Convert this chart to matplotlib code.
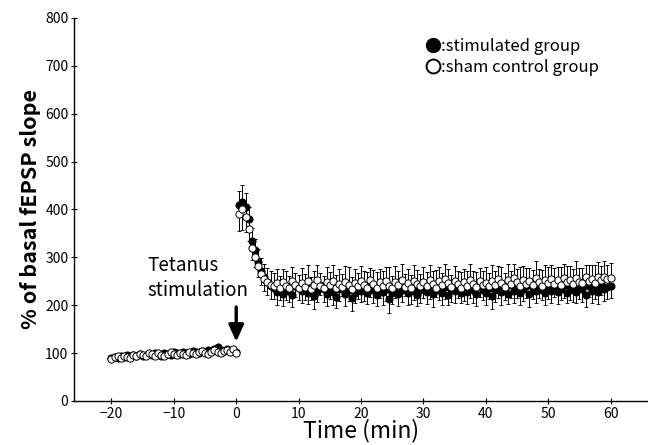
import numpy as np
import matplotlib
matplotlib.use("Agg")
import matplotlib.pyplot as plt
from matplotlib.lines import Line2D

plt.rcParams['font.family'] = ['Noto Sans CJK JP', 'DejaVu Sans']

# time axis (min): baseline every 0.5 min, then after tetanus every 0.5 min
t_base = np.arange(-20, 0.01, 0.5)
t_post = np.arange(0.5, 60.01, 0.5)

stim_base = [90, 92, 89, 94, 91, 96, 93, 97, 95, 98, 94, 97, 99, 96, 100, 98, 95, 101, 99, 97,
             102, 100, 98, 103, 101, 99, 104, 102, 100, 105, 103, 106, 104, 108, 112, 106, 104, 108, 105, 107, 103]
sham_base = [88, 91, 93, 89, 95, 92, 90, 96, 94, 99, 97, 93, 100, 98, 95, 101, 97, 94, 99, 102,
             98, 96, 101, 99, 97, 103, 100, 98, 102, 104, 101, 99, 103, 106, 102, 100, 105, 107, 103, 108, 101]
stim_base_err = [4, 3, 4, 5, 3, 4, 4, 3, 5, 4, 3, 4, 4, 5, 3, 4, 4, 3, 4, 5,
                 4, 3, 4, 4, 5, 3, 4, 4, 3, 5, 4, 4, 3, 4, 5, 4, 3, 4, 4, 5, 4]
sham_base_err = [3, 4, 4, 3, 5, 4, 3, 4, 4, 5, 3, 4, 4, 3, 5, 4, 4, 3, 4, 4,
                 5, 3, 4, 4, 3, 5, 4, 4, 3, 4, 5, 4, 3, 4, 4, 5, 3, 4, 4, 5, 4]

stim_post = [410, 415, 405, 380, 335, 315, 290, 272, 258, 248, 240, 236, 228, 233, 224, 238, 230, 222, 240, 236,
             229, 238, 225, 235, 220, 230, 243, 233, 224, 236, 227, 218, 234, 240, 224, 232, 216, 226, 238, 230,
             235, 225, 242, 231, 222, 237, 227, 233, 212, 226, 238, 224, 232, 241, 225, 230, 236, 221, 231, 240,
             227, 234, 223, 242, 232, 226, 238, 222, 233, 229, 240, 225, 234, 227, 237, 231, 223, 241, 232, 226,
             236, 220, 231, 238, 227, 234, 223, 242, 230, 237, 226, 233, 240, 224, 236, 229, 241, 232, 226, 237,
             230, 240, 227, 234, 242, 225, 237, 232, 227, 238, 233, 222, 240, 230, 237, 227, 242, 234, 238, 241]
sham_post = [390, 400, 385, 360, 320, 300, 282, 265, 255, 248, 243, 240, 246, 236, 248, 241, 235, 250, 243, 237,
             247, 239, 250, 234, 243, 252, 240, 236, 248, 242, 251, 237, 245, 239, 249, 243, 234, 247, 240, 250,
             243, 237, 252, 244, 235, 248, 240, 250, 241, 236, 249, 243, 253, 239, 246, 236, 251, 244, 240, 249,
             241, 252, 245, 237, 250, 242, 254, 246, 238, 251, 244, 236, 249, 241, 253, 245, 238, 250, 242, 247,
             240, 251, 243, 255, 247, 238, 252, 244, 256, 248, 241, 253, 245, 251, 243, 257, 248, 241, 253, 246,
             254, 245, 252, 243, 256, 248, 253, 244, 257, 249, 246, 258, 250, 255, 247, 259, 252, 260, 254, 256]
stim_post_err = [55, 58, 52, 45, 40, 35, 32, 30, 28, 27, 26, 24, 27, 22, 25, 28, 23, 26, 22, 25,
                 24, 27, 22, 25, 28, 23, 21, 26, 25, 22, 27, 24, 25, 21, 26, 24, 27, 22, 25, 24,
                 26, 22, 25, 27, 24, 21, 26, 25, 29, 24, 22, 26, 25, 21, 24, 27, 25, 22, 26, 24,
                 25, 22, 27, 24, 21, 26, 25, 22, 27, 24, 25, 21, 26, 24, 22, 27, 25, 24, 21, 26,
                 24, 27, 25, 22, 26, 24, 21, 27, 25, 22, 26, 24, 25, 27, 22, 24, 26, 21, 25, 24,
                 26, 22, 25, 24, 27, 21, 26, 25, 22, 24, 27, 25, 22, 26, 24, 25, 21, 26, 24, 25]
sham_post_err = [48, 52, 50, 45, 42, 38, 36, 33, 31, 30, 29, 27, 30, 25, 28, 31, 26, 29, 24, 27,
                 30, 26, 33, 24, 29, 32, 27, 25, 31, 28, 34, 26, 30, 27, 32, 36, 25, 29, 27, 31,
                 28, 33, 26, 30, 35, 27, 31, 29, 38, 25, 32, 28, 33, 26, 30, 27, 34, 29, 26, 31,
                 28, 32, 27, 36, 30, 26, 33, 29, 25, 31, 28, 34, 27, 30, 33, 26, 31, 28, 29, 32,
                 27, 34, 29, 26, 32, 30, 35, 27, 31, 28, 39, 29, 33, 27, 31, 36, 28, 32, 30, 34,
                 29, 32, 27, 37, 30, 33, 28, 31, 35, 29, 32, 27, 34, 30, 38, 31, 29, 33, 30, 32]

t_all = np.concatenate([t_base, t_post])
stim = np.array(stim_base + stim_post)
sham = np.array(sham_base + sham_post)
stim_err = np.array(stim_base_err + stim_post_err)
sham_err = np.array(sham_base_err + sham_post_err)

fig = plt.figure(figsize=(6.48, 4.45), dpi=100)
ax = fig.add_axes([0.1142, 0.0989, 0.8858, 0.8607])

# stimulated group: filled circles, lower error bars
ax.errorbar(t_all, stim, yerr=[stim_err, np.zeros_like(stim_err)], fmt='o', ms=5.2,
            mfc='black', mec='black', mew=0.6, ecolor='black', elinewidth=0.7,
            capsize=1.5, capthick=0.7, zorder=2)
# sham control group: open circles, upper error bars
ax.errorbar(t_all, sham, yerr=[np.zeros_like(sham_err), sham_err], fmt='o', ms=5.2,
            mfc='white', mec='black', mew=0.7, ecolor='black', elinewidth=0.7,
            capsize=1.5, capthick=0.7, zorder=3)

ax.set_xlim(-26, 66)
ax.set_ylim(0, 800)
ax.set_xticks([-20, -10, 0, 10, 20, 30, 40, 50, 60])
ax.set_xticklabels(['\u221220', '\u221210', '0', '10', '20', '30', '40', '50', '60'])
ax.set_yticks(range(0, 801, 100))
ax.spines['top'].set_visible(False)
ax.spines['right'].set_visible(False)
ax.spines['left'].set_linewidth(1.0)
ax.spines['bottom'].set_linewidth(1.0)
ax.tick_params(direction='inout', length=4, width=0.8, labelsize=10, pad=2)

ax.set_xlabel('Time (min)', fontsize=16.5, labelpad=-1)
ax.set_ylabel('% of basal fEPSP slope', fontsize=15.5, fontweight='bold', labelpad=3)

ax.text(-14.3, 257, 'Tetanus\nstimulation', fontsize=13.5, ha='left', va='center', linespacing=1.2)
ax.annotate('', xy=(0, 118), xytext=(0, 202),
            arrowprops=dict(arrowstyle='-|>,head_width=0.45,head_length=1.0', lw=2.4, color='black'))

handles = [Line2D([], [], marker='o', ls='none', ms=10, mfc='black', mec='black'),
           Line2D([], [], marker='o', ls='none', ms=10, mfc='white', mec='black', mew=1.4)]
ax.legend(handles, [':stimulated group', ':sham control group'], loc='upper left',
          bbox_to_anchor=(0.602, 0.965), frameon=False, fontsize=12,
          handlelength=0.8, handletextpad=0.1, labelspacing=0.25, borderaxespad=0)

fig.savefig('out.png', dpi=100)
